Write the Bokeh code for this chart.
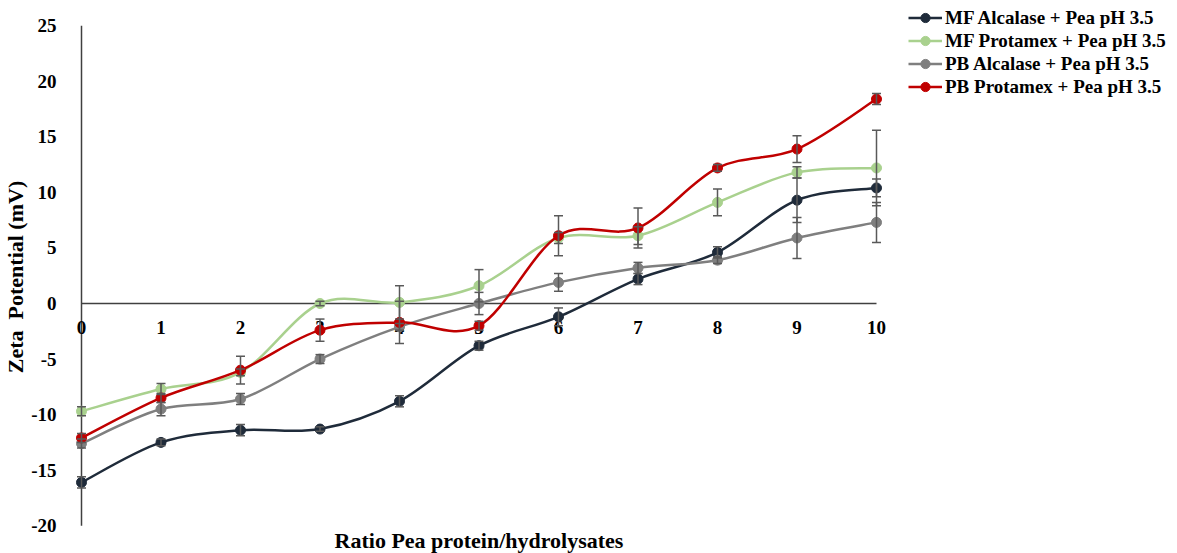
from bokeh.plotting import figure
from bokeh.models import (ColumnDataSource, Whisker, TeeHead, FixedTicker,
                          Legend, LegendItem, Range1d)
from bokeh.core.properties import value
from bokeh.embed import file_html
from bokeh.resources import INLINE

ratios = [0, 1, 2, 3, 4, 5, 6, 7, 8, 9, 10]
tick_labels = ["0", "1", "2", "3", "4", "5", "6", "7", "8", "9", "10"]
y_ticks = [-20, -15, -10, -5, 0, 5, 10, 15, 20, 25]

mf_alcalase = [-16.1, -12.5, -11.4, -11.3, -8.8, -3.8, -1.2, 2.2, 4.6, 9.3, 10.4]
mf_alcalase_err = [0.5, 0.3, 0.5, 0.2, 0.5, 0.4, 0.8, 0.5, 0.5, 2.0, 0.8]
mf_protamex = [-9.7, -7.7, -6.2, 0.0, 0.1, 1.6, 5.9, 6.1, 9.1, 11.8, 12.2]
mf_protamex_err = [0.4, 0.5, 0.3, 0.2, 1.5, 1.45, 0.5, 0.8, 1.2, 0.5, 3.4]
pb_alcalase = [-12.6, -9.5, -8.6, -5.0, -2.1, 0.0, 1.9, 3.2, 3.9, 5.9, 7.3]
pb_alcalase_err = [0.4, 0.6, 0.5, 0.4, 0.3, 1.0, 0.8, 0.5, 0.3, 1.85, 1.8]
pb_protamex = [-12.1, -8.5, -6.0, -2.4, -1.7, -2.0, 6.1, 6.8, 12.2, 13.9, 18.4]
pb_protamex_err = [0.4, 0.4, 1.25, 1.0, 1.9, 0.4, 1.8, 1.8, 0.3, 1.2, 0.5]

series = [
    ("MF Alcalase + Pea pH 3.5", mf_alcalase, mf_alcalase_err, "#1f2b3a"),
    ("MF Protamex + Pea pH 3.5", mf_protamex, mf_protamex_err, "#a9d18e"),
    ("PB Alcalase + Pea pH 3.5", pb_alcalase, pb_alcalase_err, "#7f7f7f"),
    ("PB Protamex + Pea pH 3.5", pb_protamex, pb_protamex_err, "#c00000"),
]

FONT = "Liberation Serif"
W, H = 1177, 553
LEFT = 69                     # frame left edge (px)
X0_PX, X_SCALE = 81.0, 79.5   # pixel of x=0 and px per unit
Y0_PX, Y_SCALE = 303.0, 500.0 / 45.0

x_lo = (LEFT - X0_PX) / X_SCALE
x_hi = (W - X0_PX) / X_SCALE
y_hi = Y0_PX / Y_SCALE
y_lo = -(H - Y0_PX) / Y_SCALE

p = figure(width=W, height=H, output_backend="svg", toolbar_location=None,
           x_range=Range1d(x_lo, x_hi), y_range=Range1d(y_lo, y_hi),
           min_border_left=LEFT, min_border_right=0, min_border_top=0,
           min_border_bottom=0, x_axis_location=None)
p.outline_line_color = None
p.grid.visible = False
p.background_fill_color = "white"
p.border_fill_color = "white"

# y axis (labels only)
p.yaxis.ticker = FixedTicker(ticks=y_ticks)
p.yaxis.major_label_overrides = {t: str(t) for t in y_ticks}
p.yaxis.axis_line_color = None
p.yaxis.major_tick_line_color = None
p.yaxis.minor_tick_line_color = None
p.yaxis.major_label_standoff = 7
p.yaxis.major_label_text_font = FONT
p.yaxis.major_label_text_font_style = "bold"
p.yaxis.major_label_text_font_size = "19px"
p.yaxis.major_label_text_color = "#000000"
p.yaxis.axis_label = "Zeta\u00a0 Potential (mV)"
p.yaxis.axis_label_text_font = FONT
p.yaxis.axis_label_text_font_style = "bold"
p.yaxis.axis_label_text_font_size = "22px"
p.yaxis.axis_label_text_color = "#000000"
p.yaxis.axis_label_standoff = 0

# axis lines
p.segment(x0=[0], x1=[0], y0=[min(y_ticks)], y1=[max(y_ticks)],
          line_color="#404040", line_width=1.5)
p.segment(x0=[min(ratios)], x1=[max(ratios)], y0=[0], y1=[0],
          line_color="#404040", line_width=1.5)

# x tick labels next to the zero line
p.text(x=ratios, y=[0] * len(ratios), text=tick_labels,
       text_font=value(FONT), text_font_style="bold", text_font_size="19px",
       text_color="#000000", text_align="center", text_baseline="middle",
       y_offset=24)

# x axis title
p.text(x=[(min(ratios) + max(ratios)) / 2], y=[min(y_ticks)],
       text=["Ratio Pea protein/hydrolysates"],
       text_font=value(FONT), text_font_style="bold", text_font_size="22px",
       text_color="#000000", text_align="center", text_baseline="middle",
       y_offset=15)


def smooth(xs, ys):
    n = len(xs)
    x0, y0, x1, y1, cx0, cy0, cx1, cy1 = [], [], [], [], [], [], [], []
    for i in range(n - 1):
        xm = xs[i - 1] if i > 0 else xs[i]
        ym = ys[i - 1] if i > 0 else ys[i]
        xp = xs[i + 2] if i + 2 < n else xs[i + 1]
        yp = ys[i + 2] if i + 2 < n else ys[i + 1]
        x0.append(xs[i]); y0.append(ys[i])
        x1.append(xs[i + 1]); y1.append(ys[i + 1])
        cx0.append(xs[i] + (xs[i + 1] - xm) / 6.0)
        cy0.append(ys[i] + (ys[i + 1] - ym) / 6.0)
        cx1.append(xs[i + 1] - (xp - xs[i]) / 6.0)
        cy1.append(ys[i + 1] - (yp - ys[i]) / 6.0)
    return dict(x0=x0, y0=y0, x1=x1, y1=y1, cx0=cx0, cy0=cy0, cx1=cx1, cy1=cy1)


items = []
for name, vals, errs, color in series:
    bez = p.bezier(source=ColumnDataSource(smooth(ratios, vals)),
                   x0="x0", y0="y0", x1="x1", y1="y1",
                   cx0="cx0", cy0="cy0", cx1="cx1", cy1="cy1",
                   line_color=color, line_width=2.5)
    sc = p.scatter(ratios, vals, size=10, marker="circle",
                   fill_color=color, line_color=color)
    items.append(LegendItem(label=name, renderers=[bez, sc]))

for name, vals, errs, color in series:
    src = ColumnDataSource(dict(x=ratios,
                                upper=[v + e for v, e in zip(vals, errs)],
                                lower=[v - e for v, e in zip(vals, errs)]))
    w = Whisker(source=src, base="x", upper="upper", lower="lower",
                line_color="#595959", line_width=1.5, level="overlay",
                upper_head=TeeHead(size=9, line_color="#595959", line_width=1.5),
                lower_head=TeeHead(size=9, line_color="#595959", line_width=1.5))
    p.add_layout(w)

legend = Legend(items=items, location=(908 - LEFT, H - 98), padding=0, spacing=0,
                margin=0, glyph_width=34, glyph_height=23, label_height=23,
                label_standoff=3, border_line_color=None,
                background_fill_alpha=0,
                label_text_font=FONT, label_text_font_style="bold",
                label_text_font_size="19px", label_text_color="#000000")
p.add_layout(legend)

open("out.html", "w").write(file_html(p, INLINE))
